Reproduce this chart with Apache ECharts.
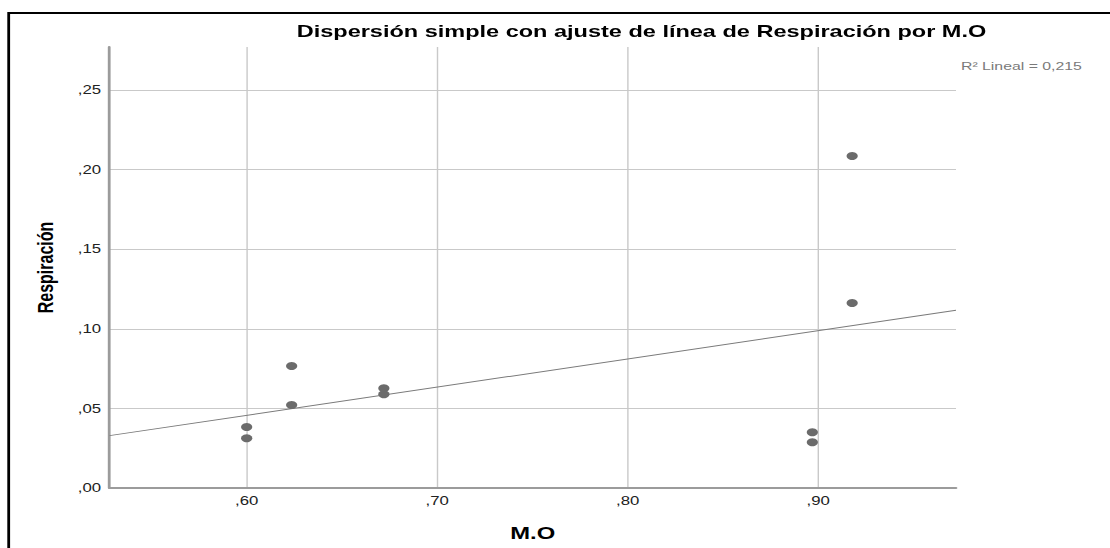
<!DOCTYPE html>
<html>
<head>
<meta charset="utf-8">
<script src="https://cdn.jsdelivr.net/npm/echarts@6/dist/echarts.min.js"></script>
<style>
  html, body { margin: 0; padding: 0; background: #fff; overflow: hidden; width: 1110px; height: 548px; }
  #chart { position: absolute; left: 0; top: 0; height: 548px; transform-origin: 0 0; }
</style>
</head>
<body>
<div id="chart"></div>
<script>
// Texts
const titleText = 'Dispersión simple con ajuste de línea de Respiración por M.O';
const xAxisName = 'M.O';
const yAxisName = 'Respiración';
const fitLabel = 'R² Lineal = 0,215';

// Observations: M.O (x) and Respiración (y)
const moValues = [0.600, 0.600, 0.6236, 0.6236, 0.672, 0.672, 0.8969, 0.8969, 0.9178, 0.9178];
const respiracionValues = [0.0383, 0.0312, 0.0766, 0.0521, 0.0626, 0.0589, 0.0350, 0.0287, 0.2085, 0.1162];

// Axis ranges
const xRange = [0.528, 0.9723];
const yRange = [0, 0.277];
const yStep = 0.05;

// The exported SPSS graphic is wider than its native layout
const S = 1.4;
const W = 1110 / S;
const H = 548;

// Ordinary least squares fit line
function linearFit(xs, ys) {
  const n = xs.length;
  const mx = xs.reduce((a, b) => a + b, 0) / n;
  const my = ys.reduce((a, b) => a + b, 0) / n;
  let sxy = 0, sxx = 0;
  for (let i = 0; i < n; i++) {
    sxy += (xs[i] - mx) * (ys[i] - my);
    sxx += (xs[i] - mx) * (xs[i] - mx);
  }
  const b = sxy / sxx;
  return { a: my - b * mx, b: b };
}
const fit = linearFit(moValues, respiracionValues);
const fitLine = xRange.map(x => [x, fit.a + fit.b * x]);

// ",60" style labels (comma decimal, no leading zero)
const commaLabel = v => ',' + String(Math.round(v * 100)).padStart(2, '0');

const el = document.getElementById('chart');
el.style.width = W + 'px';
el.style.transform = 'scaleX(' + S + ')';

const chart = echarts.init(el, null, { renderer: 'svg', width: W, height: H });
const font = 'Liberation Sans, Arial, sans-serif';

chart.setOption({
  animation: false,
  backgroundColor: '#fff',
  title: {
    text: titleText,
    left: 296.7 / S,
    top: 23,
    padding: 0,
    textStyle: { fontFamily: font, fontSize: 16.8, fontWeight: 'bold', color: '#000' }
  },
  grid: {
    left: 109.5 / S,
    right: W - 956 / S,
    top: 47,
    bottom: H - 488
  },
  xAxis: {
    type: 'value',
    min: xRange[0],
    max: xRange[1],
    splitNumber: 5,
    name: xAxisName,
    nameLocation: 'middle',
    nameGap: 36,
    nameTextStyle: { fontFamily: font, fontSize: 17, fontWeight: 'bold', color: '#000' },
    axisLine: { show: true, onZero: false, lineStyle: { color: '#9b9b9b', width: 2 } },
    axisTick: { show: false },
    axisLabel: {
      showMinLabel: false, showMaxLabel: false,
      formatter: commaLabel, margin: 7,
      fontFamily: font, fontSize: 12, color: '#222'
    },
    splitLine: {
      show: true, showMinLine: false, showMaxLine: false,
      lineStyle: { color: '#c9c9c9', width: 1 }
    }
  },
  yAxis: {
    type: 'value',
    min: yRange[0],
    max: yRange[1],
    interval: yStep,
    name: yAxisName,
    nameLocation: 'middle',
    nameGap: 38,
    nameTextStyle: { fontFamily: font, fontSize: 16, fontWeight: 'bold', color: '#000' },
    axisLine: { show: true, onZero: false, lineStyle: { color: '#9b9b9b', width: 2 } },
    axisTick: { show: false },
    axisLabel: {
      showMinLabel: true, showMaxLabel: false,
      formatter: commaLabel, margin: 6,
      fontFamily: font, fontSize: 12, color: '#222'
    },
    splitLine: {
      show: true, showMinLine: false, showMaxLine: false,
      lineStyle: { color: '#c9c9c9', width: 1 }
    }
  },
  series: [
    {
      type: 'line',
      data: fitLine,
      symbol: 'none',
      silent: true,
      z: 1,
      lineStyle: { color: '#7a7a7a', width: 1 }
    },
    {
      type: 'scatter',
      data: moValues.map((x, i) => [x, respiracionValues[i]]),
      symbol: 'circle',
      symbolSize: 8,
      z: 3,
      itemStyle: { color: '#6b6b6b', opacity: 1 }
    }
  ],
  graphic: [
    {
      type: 'rect',
      silent: true,
      shape: { x: 8.7 / S, y: 13, width: 2000, height: 2000 },
      style: { fill: 'none', stroke: '#000', lineWidth: 2 }
    },
    {
      type: 'text',
      silent: true,
      left: 961 / S,
      top: 61,
      style: { text: fitLabel, fontFamily: font, fontSize: 11.3, fill: '#7a7a7a' }
    }
  ]
});
</script>
</body>
</html>
